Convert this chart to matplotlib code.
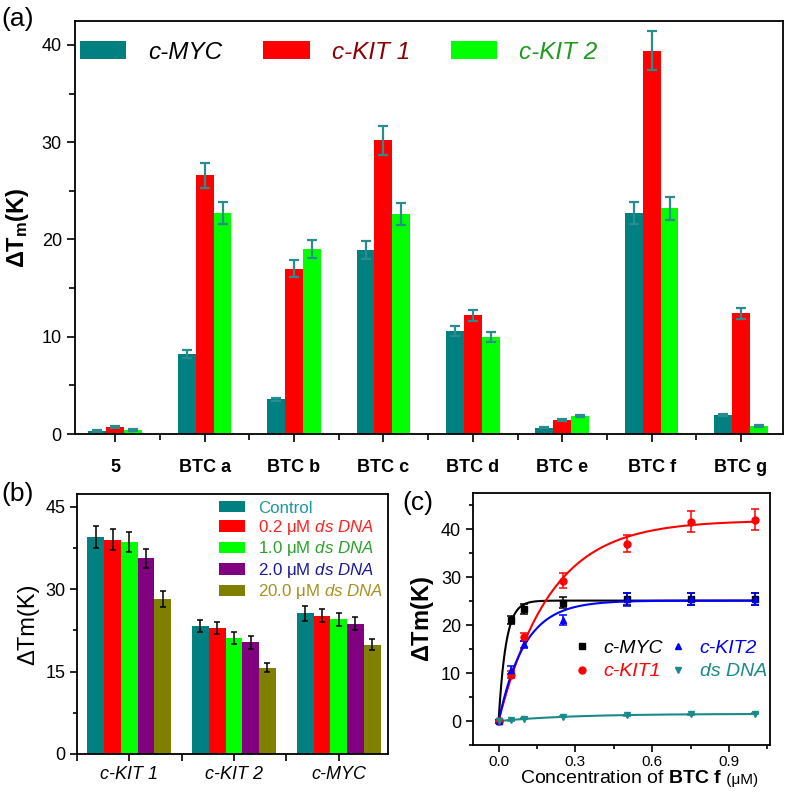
import numpy as np
import matplotlib
matplotlib.use("Agg")
import matplotlib.pyplot as plt
from matplotlib.lines import Line2D
from matplotlib.ticker import MultipleLocator, FixedLocator

plt.rcParams['font.family'] = ['Liberation Sans', 'DejaVu Sans']
plt.rcParams['mathtext.fontset'] = 'custom'
plt.rcParams['mathtext.rm'] = 'Liberation Sans'
plt.rcParams['mathtext.it'] = 'Liberation Sans:italic'
plt.rcParams['mathtext.bf'] = 'Liberation Sans:bold'
plt.rcParams['axes.linewidth'] = 1.3

#%% data, panel (a)
compounds = ['5', 'BTC a', 'BTC b', 'BTC c', 'BTC d', 'BTC e', 'BTC f', 'BTC g']
myc_a = [0.3, 8.2, 3.55, 18.9, 10.6, 0.65, 22.7, 1.95]
myc_a_err = [0.1, 0.4, 0.15, 0.9, 0.55, 0.08, 1.1, 0.1]
kit1_a = [0.72, 26.6, 17.0, 30.2, 12.2, 1.44, 39.4, 12.4]
kit1_a_err = [0.1, 1.3, 0.85, 1.5, 0.6, 0.1, 2.0, 0.6]
kit2_a = [0.42, 22.7, 19.0, 22.6, 10.0, 1.85, 23.2, 0.82]
kit2_a_err = [0.08, 1.1, 0.9, 1.1, 0.5, 0.1, 1.2, 0.08]

#%% data, panel (b)
targets_b = ['c-KIT 1', 'c-KIT 2', 'c-MYC']
dna_labels = ['Control', '0.2 \u03bcM $\\mathit{ds\\ DNA}$', '1.0 \u03bcM $\\mathit{ds\\ DNA}$',
              '2.0 \u03bcM $\\mathit{ds\\ DNA}$', '20.0 \u03bcM $\\mathit{ds\\ DNA}$']
control_b = [39.5, 23.3, 25.6]
control_b_err = [2.0, 1.1, 1.3]
dna02_b = [39.0, 23.0, 25.2]
dna02_b_err = [1.9, 1.1, 1.2]
dna10_b = [38.6, 21.1, 24.5]
dna10_b_err = [1.9, 1.1, 1.2]
dna20_b = [35.6, 20.3, 23.7]
dna20_b_err = [1.7, 1.1, 1.2]
dna200_b = [28.2, 15.7, 19.85]
dna200_b_err = [1.5, 0.8, 1.0]

#%% data, panel (c)
conc = np.array([0.0, 0.05, 0.1, 0.25, 0.5, 0.75, 1.0])
myc_c = np.array([0.0, 21.1, 23.4, 24.7, 25.5, 25.5, 25.5])
myc_c_err = [0.3, 0.9, 1.0, 1.2, 1.3, 1.3, 1.3]
kit1_c = np.array([0.0, 9.7, 17.5, 29.3, 37.0, 41.6, 42.0])
kit1_c_err = [0.3, 0.8, 0.8, 1.5, 1.8, 2.2, 2.2]
kit2_c = np.array([0.0, 10.7, 16.0, 21.1, 25.4, 25.5, 25.5])
kit2_c_err = [0.3, 0.8, 0.8, 1.0, 1.3, 1.3, 1.3]
dna_c = np.array([0.0, 0.2, 0.5, 0.9, 1.2, 1.4, 1.5])
dna_c_err = [0.1, 0.1, 0.1, 0.1, 0.1, 0.1, 0.1]


def fit_saturation(x, y):
    # least squares fit of y = A*(1-exp(-k*x)), grid search over k
    best = None
    for k in np.linspace(0.5, 80, 1600):
        f = 1 - np.exp(-k * x)
        A = (f @ y) / (f @ f)
        err = ((A * f - y) ** 2).sum()
        if best is None or err < best[0]:
            best = (err, A, k)
    return best[1], best[2]


fig = plt.figure(figsize=(7.87, 7.92), dpi=100)

#%% panel (a)
ax = fig.add_axes([0.0953, 0.452, 0.8997, 0.522])
xa = np.arange(len(compounds))
w = 0.2
ecol = '#2a8c8c'
ekw = dict(ecolor=ecol, elinewidth=1.6, capsize=3.5, capthick=1.6)
ax.bar(xa - w, myc_a, w, color='#008080', yerr=myc_a_err, error_kw=ekw, label='c-MYC')
ax.bar(xa, kit1_a, w, color='#ff0000', yerr=kit1_a_err, error_kw=ekw, label='c-KIT 1')
ax.bar(xa + w, kit2_a, w, color='#00ff00', yerr=kit2_a_err, error_kw=ekw, label='c-KIT 2')
ax.set_xlim(-0.45, 7.47)
ax.set_ylim(0, 42.5)
ax.set_xticks(xa)
ax.set_xticklabels(compounds, fontsize=13, fontweight='bold')
ax.xaxis.set_minor_locator(FixedLocator(xa[:-1] + 0.5))
ax.yaxis.set_major_locator(MultipleLocator(10))
ax.yaxis.set_minor_locator(MultipleLocator(5))
ax.tick_params(axis='both', which='major', direction='out', length=6, width=1.2, labelsize=13)
ax.tick_params(axis='both', which='minor', direction='out', length=4, width=1.2)
ax.tick_params(axis='x', which='major', pad=12)
ax.set_ylabel('$\\mathbf{\u0394T_m(K)}$', fontsize=17, labelpad=8)
leg = ax.legend(loc='center left', bbox_to_anchor=(0.007, 0.924), ncol=3, frameon=False,
                prop={'style': 'italic', 'size': 17.5}, handlelength=1.9, handleheight=0.7,
                handletextpad=0.9, columnspacing=1.7, borderpad=0, borderaxespad=0)
for t, c in zip(leg.get_texts(), ['black', '#8b0000', '#1f9a1f']):
    t.set_color(c)

#%% panel (b)
axb = fig.add_axes([0.0978, 0.048, 0.395, 0.328])
xb = np.arange(1, len(targets_b) + 1)
wb = 0.16
series_b = [control_b, dna02_b, dna10_b, dna20_b, dna200_b]
errs_b = [control_b_err, dna02_b_err, dna10_b_err, dna20_b_err, dna200_b_err]
cols_b = ['#008080', '#ff0000', '#00ff00', '#800080', '#808000']
ekw_b = dict(ecolor='black', elinewidth=1.1, capsize=2.5, capthick=1.1)
for i in range(5):
    axb.bar(xb + (i - 2) * wb, series_b[i], wb, color=cols_b[i], yerr=errs_b[i],
            error_kw=ekw_b, label=dna_labels[i])
axb.set_xlim(0.5, 3.47)
axb.set_ylim(0, 47.3)
axb.set_xticks(xb)
axb.set_xticklabels(targets_b, fontsize=14, style='italic')
axb.xaxis.set_minor_locator(FixedLocator([0.5, 1.5, 2.5, 3.5]))
axb.yaxis.set_major_locator(MultipleLocator(15))
axb.yaxis.set_minor_locator(MultipleLocator(7.5))
axb.tick_params(axis='both', which='major', direction='out', length=5, width=1.2, labelsize=13)
axb.tick_params(axis='both', which='minor', direction='out', length=3, width=1.2)
axb.tick_params(axis='x', which='minor', length=5)
axb.set_ylabel('\u0394Tm(K)', fontsize=17, labelpad=4)
legb = axb.legend(loc='upper left', bbox_to_anchor=(0.457, 0.975), frameon=False, fontsize=12.2,
                  handlelength=1.55, handleheight=0.65, handletextpad=0.75, labelspacing=0.14,
                  borderpad=0, borderaxespad=0)
for t, c in zip(legb.get_texts(), ['#1a9a9a', '#ff2020', '#2ca02c', '#1a1a99', '#a89020']):
    t.set_color(c)

#%% panel (c)
axc = fig.add_axes([0.601, 0.0593, 0.3773, 0.3177])
xs = np.linspace(0, 1, 400)
curves = [(myc_c, myc_c_err, 'black', 's', 'c-MYC'),
          (kit1_c, kit1_c_err, '#ff0000', 'o', 'c-KIT1'),
          (kit2_c, kit2_c_err, '#0000ff', '^', 'c-KIT2'),
          (dna_c, dna_c_err, '#1a8a8a', 'v', 'ds DNA')]
handles = []
for y, e, c, m, lab in curves:
    A, k = fit_saturation(conc, y)
    axc.plot(xs, A * (1 - np.exp(-k * xs)), color=c, lw=1.5)
    axc.errorbar(conc, y, yerr=e, fmt=m, color=c, ms=5, elinewidth=1.1, capsize=3, capthick=1.1)
    handles.append(Line2D([], [], ls='none', marker=m, color=c, ms=5, label=lab))
axc.set_xlim(-0.1, 1.06)
axc.set_ylim(-5, 47.5)
axc.xaxis.set_major_locator(MultipleLocator(0.3))
axc.xaxis.set_minor_locator(MultipleLocator(0.15))
axc.yaxis.set_major_locator(MultipleLocator(10))
axc.yaxis.set_minor_locator(MultipleLocator(5))
axc.tick_params(axis='both', which='major', direction='out', length=5, width=1.2)
axc.tick_params(axis='both', which='minor', direction='out', length=3, width=1.2)
axc.tick_params(axis='y', labelsize=13)
axc.tick_params(axis='x', labelsize=11, pad=2)
axc.set_ylabel('$\\mathbf{\u0394Tm(K)}$', fontsize=17, labelpad=4)
xl = axc.text(0.84, -0.152, 'Concentration of $\\mathbf{BTC\\ f}$', transform=axc.transAxes,
              fontsize=14, ha='right', va='baseline')
axc.annotate(' (\u03bcM)', xy=(1, 0), xycoords=xl, fontsize=11, ha='left', va='bottom')
legc = axc.legend(handles=handles, loc='upper left',
                  bbox_to_anchor=(0.333, 0.42), ncol=2, frameon=False,
                  prop={'style': 'italic', 'size': 14}, handlelength=1.0, handletextpad=0.6,
                  columnspacing=0.3, labelspacing=0.3, borderpad=0, borderaxespad=0)
for t, c in zip(legc.get_texts(), ['black', '#ff0000', '#0000ff', '#1a8a8a']):
    t.set_color(c)

#%% panel letters
fig.text(0.022, 0.976, '(a)', fontsize=19, ha='center', va='center')
fig.text(0.022, 0.376, '(b)', fontsize=19, ha='center', va='center')
fig.text(0.531, 0.365, '(c)', fontsize=19, ha='center', va='center')

plt.savefig('out.png', dpi=100)
